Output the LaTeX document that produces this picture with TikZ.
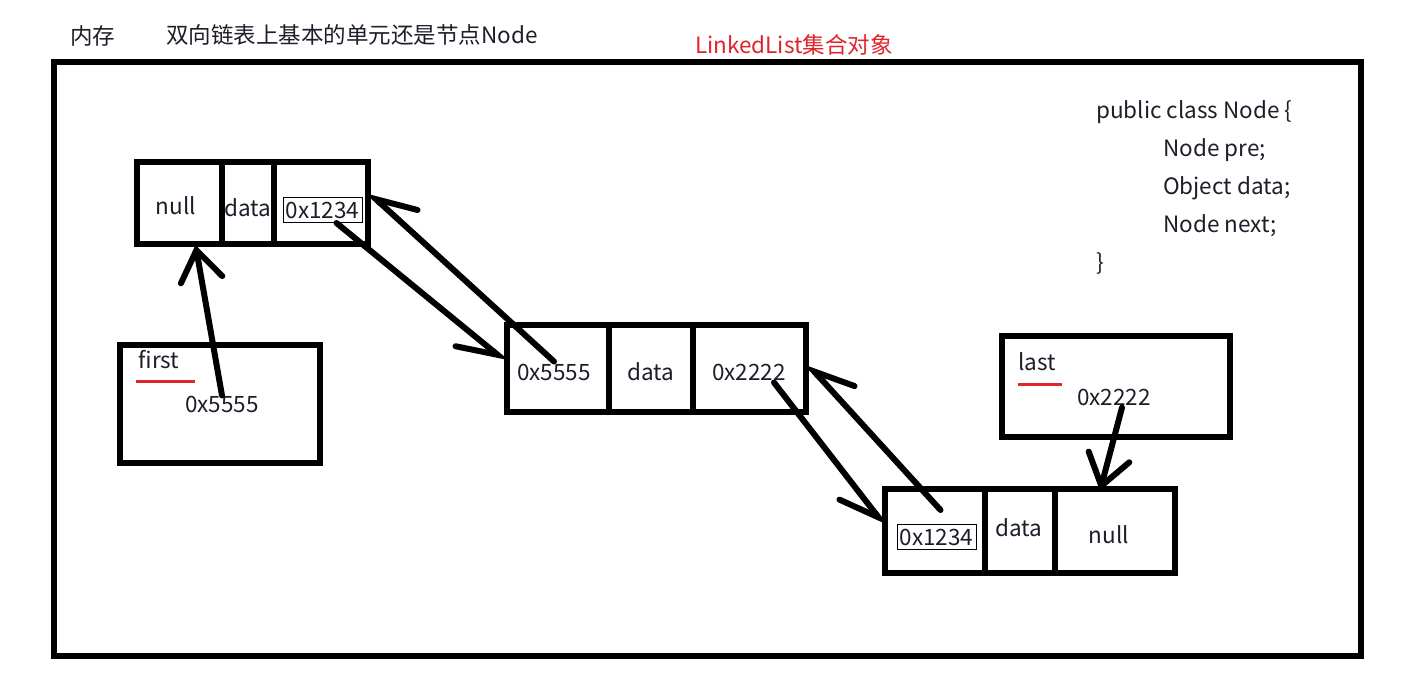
\documentclass[tikz,border=0pt]{standalone}
\usepackage{fontspec}
\setmainfont{Noto Sans CJK SC}
\usetikzlibrary{arrows.meta,calc}
\definecolor{ink}{HTML}{1E1E2A}
\definecolor{redline}{HTML}{E0242B}
\tikzset{
  cell/.style={draw=black, line width=6pt, inner sep=0pt, outer sep=0pt, font=\fontsize{22.5}{26}\selectfont, text=ink},
  holder/.style={draw=black, line width=6pt, inner sep=0pt, outer sep=0pt},
  lbl/.style={inner sep=0pt, font=\fontsize{22.5}{26}\selectfont, text=ink},
  addr/.style={draw=black, line width=1pt, inner sep=0pt, minimum width=79pt, minimum height=25pt, font=\fontsize{22.5}{26}\selectfont, text=ink},
  link/.style={line width=6pt, line cap=round, draw=black},
  halfhead/.style={-{Straight Barb[right, length=38pt, width=40pt, line cap=round]}},
  fullhead/.style={-{Straight Barb[length=30pt, width=42pt, line cap=round]}},
  uline/.style={draw=redline, line width=3pt},
}
\begin{document}
\begin{tikzpicture}[x=1pt,y=-1pt]
\useasboundingbox (0,0) rectangle (1401,687);
\fill[white] (0,0) rectangle (1401,687);

% titles
\node[lbl, anchor=west] (mem) at (70,36) {内存};
\node[lbl, anchor=west] (title) at (166,35) {双向链表上基本的单元还是节点Node};
\node[lbl, anchor=west, text=redline] (coll) at (695,45) {LinkedList集合对象};

% outer frame
\node[holder, minimum width=1307pt, minimum height=594pt] (frame) at (707.5,359) {};

% node 1
\node[cell, minimum width=85pt, minimum height=82pt] (n1a) at (179.5,203) {};
\node[cell, minimum width=52pt, minimum height=82pt] (n1b) at (248,203) {};
\node[cell, minimum width=94pt, minimum height=82pt] (n1c) at (321,203) {};
\node[lbl] (n1null) at (176,206) {null};
\node[lbl] (n1data) at (248,208) {data};
\node[addr] (n1next) at (322.5,210) {0x1234};

% first
\node[holder, minimum width=200pt, minimum height=118pt] (firstbox) at (220,404) {};
\node[lbl] (firstlbl) at (159,360) {first};
\draw[uline] ($(firstlbl.south west)+(-2,12)$) coordinate (fu1) -- ($(fu1)+(59,0)$);
\node[lbl] (firstval) at (222,404) {0x5555};

% node 2
\node[cell, minimum width=102pt, minimum height=87pt] (n2a) at (558,368.5) {};
\node[cell, minimum width=84pt, minimum height=87pt] (n2b) at (651,368.5) {};
\node[cell, minimum width=113pt, minimum height=87pt] (n2c) at (749.5,368.5) {};
\node[lbl] (n2pre) at (554,372) {0x5555};
\node[lbl] (n2data) at (651,372) {data};
\node[lbl] (n2next) at (749,372) {0x2222};

% last
\node[holder, minimum width=228pt, minimum height=101pt] (lastbox) at (1116,386.5) {};
\node[lbl] (lastlbl) at (1037,362) {last};
\draw[uline] ($(lastlbl.south west)+(0,13)$) coordinate (lu1) -- ($(lu1)+(44,0)$);
\node[lbl] (lastval) at (1114,397) {0x2222};

% node 3
\node[cell, minimum width=100pt, minimum height=84pt] (n3a) at (935,531) {};
\node[cell, minimum width=70pt, minimum height=84pt] (n3b) at (1020,531) {};
\node[cell, minimum width=120pt, minimum height=84pt] (n3c) at (1115,531) {};
\node[addr] (n3pre) at (936.5,537) {0x1234};
\node[lbl] (n3data) at (1019,528) {data};
\node[lbl] (n3null) at (1109,535) {null};

% class code
\node[lbl, anchor=base west] (c1) at (1096,119) {public class Node \{};
\node[lbl, anchor=base west] (c2) at (1163,157) {Node pre;};
\node[lbl, anchor=base west] (c3) at (1163,195) {Object data;};
\node[lbl, anchor=base west] (c4) at (1163,233) {Node next;};
\node[lbl, anchor=base west] (c5) at (1096,271) {\}};

% links
\draw[link, fullhead] (firstval.north) -- ($(n1a.south)+(16,1)$);
\draw[link, halfhead] ($(n1next.south)+(14,0)$) -- ($(n2a.west)+(0,-6)$);
\draw[link, halfhead] ($(n2pre.north)+(0,-2)$) -- ($(n1c.north east)+(-1,29)$);
\draw[link, halfhead] ($(n2next.south)+(25,2)$) -- ($(n3a.west)+(1,-4)$);
\draw[link, halfhead] ($(n3pre.north)+(4,-14)$) -- ($(n2c.east)+(0,-6)$);
\draw[link, fullhead] ($(lastval.south)+(8,2)$) -- ($(n3c.north)+(-15,2)$);
\end{tikzpicture}
\end{document}
